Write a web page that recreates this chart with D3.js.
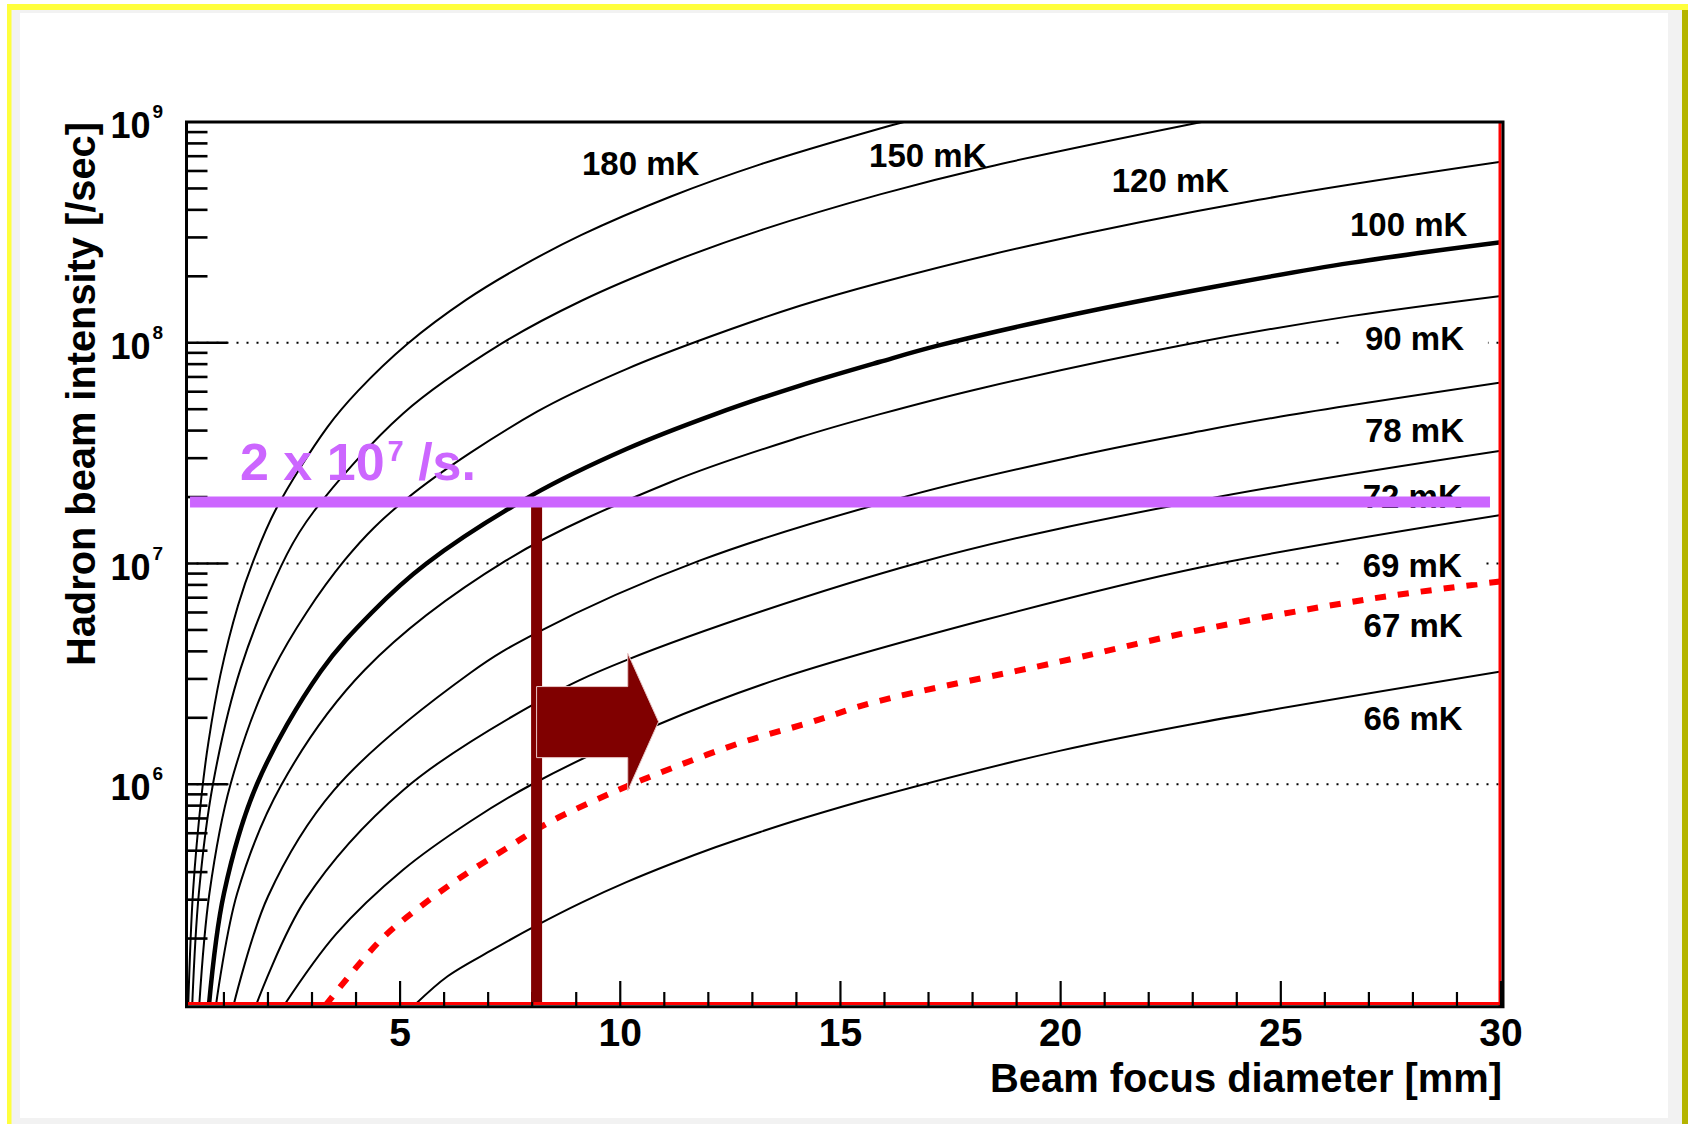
<!DOCTYPE html>
<html>
<head>
<meta charset="utf-8">
<script src="https://cdn.jsdelivr.net/npm/d3@7/dist/d3.min.js"></script>
<style>
  body { margin: 0; background: #fff; overflow: hidden; }
  svg { display: block; }
  text { font-family: "Liberation Sans", Arial, Helvetica, sans-serif; font-weight: bold; }
</style>
</head>
<body>
<svg id="chart" width="1691" height="1124"></svg>
<script>
// cooling limit curves: [beam focus diameter (mm), hadron beam intensity (/sec)]
var temps = ["180 mK", "150 mK", "120 mK", "100 mK", "90 mK", "78 mK", "72 mK", "69 mK", "67 mK", "66 mK"];

var c180 = [[0.19,1e5],[0.3,3.3e5],[0.5,9.2e5],[0.65,1.56e6],[0.92,3.13e6],[1.32,6.45e6],[1.67,1.03e7],[2.18,1.76e7],
  [3.35,4.15e7],[4.05,6.07e7],[5.17,9.9e7],[6.49,1.56e8],[7.7,2.19e8],[9.12,3.08e8],[11.15,4.6e8],[13.18,6.43e8],
  [15.9,9.35e8],[16.44,1e9]];
var c150 = [[0.28,1e5],[0.43,3.2e5],[0.75,1e6],[1.38,3.35e6],[2.43,1.1e7],[3.04,1.72e7],[5.07,4.78e7],[7.3,9.9e7],
  [9.12,1.55e8],[11.15,2.31e8],[13.18,3.23e8],[15.9,4.7e8],[18.35,6.26e8],[23.2,1e9]];
var c120 = [[0.44,1e5],[0.67,3.2e5],[1.15,1e6],[2.1,3.26e6],[3.75,1.04e7],[5.17,1.98e7],[8.11,4.87e7],[10.14,7.6e7],
  [11.66,1e8],[14.08,1.47e8],[15.9,1.87e8],[19.29,2.75e8],[24.5,4.44e8],[30,6.6e8]];
var c100 = [[0.66,1e5],[1.0,3.2e5],[1.75,1e6],[3.2,3.25e6],[4.36,6.0e6],[5.6,1.0e7],[8.0,2.04e7],[10.14,3.3e7],
  [12.16,4.75e7],[14.08,6.4e7],[15.9,8.2e7],[17.21,9.7e7],[20.34,1.35e8],[23.46,1.79e8],[26.59,2.3e8],[30,2.85e8]];
var c90 = [[0.82,1e5],[1.3,3.2e5],[2.3,9.9e5],[4.2,3.3e6],[7.4,1.03e7],[11.15,2.34e7],[14.08,3.73e7],[15.9,4.75e7],
  [18.25,6.26e7],[23.05,1e8],[26.59,1.32e8],[30,1.63e8]];
var c78 = [[1.22,1e5],[2.0,3.1e5],[3.5,9.4e5],[6.6,3.2e6],[8.1,4.85e6],[11.8,1.03e7],[16.6,2.04e7],[20.5,3.11e7],
  [23.16,3.97e7],[25,4.63e7],[30,6.6e7]];
var c72 = [[1.73,1e5],[2.85,3.0e5],[5.07,9.4e5],[8.11,2.35e6],[10.14,3.65e6],[16.8,1.01e7],[23.16,1.93e7],[30,3.24e7]];
var c69 = [[2.37,1e5],[3.55,2.1e5],[5.07,4.1e5],[6.6,6.8e5],[8.0,1e6],[10.85,1.86e6],[13.6,3.0e6],[18.2,5.5e6],
  [23.16,9.6e6],[30,1.66e7]];
var c67 = [[3.31,1e5],[4.56,1.97e5],[5.47,2.8e5],[6.39,3.8e5],[7.4,5.1e5],[8.31,6.6e5],[9.78,9.1e5],[11.25,1.2e6],
  [12.77,1.55e6],[14.29,1.9e6],[15.76,2.35e6],[20,3.6e6],[23.16,5e6],[27,6.9e6],[30,8.3e6]];
var c66 = [[5.33,1e5],[6.08,1.35e5],[7.1,1.78e5],[8.11,2.3e5],[9.12,2.91e5],[10.14,3.6e5],[11.15,4.35e5],
  [12.16,5.18e5],[13.18,6.08e5],[14.19,7.05e5],[15.9,8.85e5],[20,1.42e6],[23.16,1.9e6],[30,3.24e6]];

var curves = [c180, c150, c120, c100, c90, c78, c72, c69, c67, c66];

var xMajor = [5, 10, 15, 20, 25, 30];
var yDecades = [6, 7, 8, 9];
var gridValues = [1e6, 1e7, 1e8];

// required beam (the line sits a touch under 2e7 in the figure)
var limitText = "2 x 10";
var limitExp = "7";
var limitValue = 1.9e7;
var limitX = 8.1;

// label anchors in data coordinates (left edge, baseline)
var labelPos = [[9.13,5.74e8],[15.65,6.25e8],[21.16,4.81e8],[26.57,3.04e8],[26.91,9.27e7],[26.91,3.55e7],
  [26.86,1.78e7],[26.86,8.67e6],[26.88,4.63e6],[26.88,1.76e6]];

var svg = d3.select("#chart");

// page frame
svg.append("rect").attr("x", 7).attr("y", 4).attr("width", 1681).attr("height", 1130).attr("fill", "#ffff3c");
svg.append("rect").attr("x", 1682).attr("y", 10).attr("width", 6).attr("height", 1124).attr("fill", "#b4b400");
svg.append("rect").attr("x", 11.5).attr("y", 10).attr("width", 1670.5).attr("height", 1124).attr("fill", "#f2f2f2");
svg.append("rect").attr("x", 20).attr("y", 13).attr("width", 1648).attr("height", 1105).attr("fill", "#fff");

var x = d3.scaleLinear().domain([0.15, 30]).range([186.5, 1501]);
var y = d3.scaleLog().domain([1e5, 1e9]).range([1005, 122]);

svg.append("clipPath").attr("id", "plotclip")
  .append("rect").attr("x", 186.5).attr("y", 122).attr("width", 1314.5).attr("height", 883);

// dotted grid
svg.selectAll(".grid").data(gridValues).enter().append("line")
  .attr("class", "grid")
  .attr("x1", x(0.15)).attr("x2", x(30))
  .attr("y1", function(d) { return y(d); }).attr("y2", function(d) { return y(d); })
  .attr("stroke", "#000").attr("stroke-width", 2).attr("stroke-dasharray", "2,8");

// curves
var line = d3.line()
  .x(function(d) { return x(d[0]); })
  .y(function(d) { return y(d[1]); })
  .curve(d3.curveCatmullRom.alpha(0.5));

svg.append("g").attr("clip-path", "url(#plotclip)")
  .selectAll("path").data(curves).enter().append("path")
  .attr("d", line)
  .attr("fill", "none")
  .attr("stroke", function(d, i) { return temps[i] == "67 mK" ? "#ff0000" : "#000"; })
  .attr("stroke-width", function(d, i) {
    if(temps[i] == "100 mK") return 4.5;
    if(temps[i] == "67 mK") return 6;
    return 2;
  })
  .attr("stroke-dasharray", function(d, i) { return temps[i] == "67 mK" ? "11,12" : null; });

// red edges inside the frame
svg.append("line").attr("x1", x(0.15)).attr("x2", 1503).attr("y1", 1003.5).attr("y2", 1003.5)
  .attr("stroke", "#ff0000").attr("stroke-width", 3);
svg.append("line").attr("x1", 1500).attr("x2", 1500).attr("y1", 122).attr("y2", 1007)
  .attr("stroke", "#ff0000").attr("stroke-width", 3);

// frame
svg.append("path")
  .attr("d", "M186.5,1006.8 L186.5,122 L1503,122 L1503,1006.8 Z")
  .attr("fill", "none").attr("stroke", "#000").attr("stroke-width", 3);

// x ticks
var xTicks = d3.range(1, 31);
svg.selectAll(".xtick").data(xTicks).enter().append("line")
  .attr("class", "xtick")
  .attr("x1", function(d) { return x(d); }).attr("x2", function(d) { return x(d); })
  .attr("y1", 1006).attr("y2", function(d) { return xMajor.indexOf(d) >= 0 ? 981 : 992; })
  .attr("stroke", "#000").attr("stroke-width", 2.2);

svg.selectAll(".xlab").data(xMajor).enter().append("text")
  .attr("class", "xlab")
  .attr("x", function(d) { return x(d); }).attr("y", 1046)
  .attr("text-anchor", "middle").attr("font-size", 39)
  .text(function(d) { return d; });

// y ticks
var yTicks = [];
for(var k = 5; k <= 8; k++) {
  for(var m = 1; m <= 9; m++) {
    if(k == 5 && m == 1) continue;
    yTicks.push(m * Math.pow(10, k));
  }
}
svg.selectAll(".ytick").data(yTicks).enter().append("line")
  .attr("class", "ytick")
  .attr("x1", 186.5).attr("x2", function(d) {
    var l = Math.log10(d);
    return Math.abs(l - Math.round(l)) < 1e-9 ? 227.5 : 207.5;
  })
  .attr("y1", function(d) { return y(d); }).attr("y2", function(d) { return y(d); })
  .attr("stroke", "#000").attr("stroke-width", 2.6);

var ylab = svg.selectAll(".ylab").data(yDecades).enter().append("text")
  .attr("class", "ylab")
  .attr("x", 163).attr("y", function(d) { return y(Math.pow(10, d)) + 16; })
  .attr("text-anchor", "end").attr("font-size", 36);
ylab.append("tspan").text("10");
ylab.append("tspan").attr("font-size", 19).attr("dy", -20).attr("dx", 2).text(function(d) { return d; });

// axis titles
svg.append("text")
  .attr("x", 990).attr("y", 1092)
  .attr("font-size", 40).attr("textLength", 512).attr("lengthAdjust", "spacingAndGlyphs")
  .text("Beam focus diameter [mm]");

svg.append("text")
  .attr("transform", "translate(95,666) rotate(-90)")
  .attr("font-size", 40).attr("textLength", 544).attr("lengthAdjust", "spacingAndGlyphs")
  .text("Hadron beam intensity [/sec]");

// temperature labels (the right-hand ones sit on white boxes)
var labs = svg.selectAll(".tlab").data(temps).enter().append("g").attr("class", "tlab");
labs.filter(function(d, i) { return i >= 3; }).append("rect")
  .attr("x", function(d) { var i = temps.indexOf(d); return x(labelPos[i][0]) - 19; })
  .attr("y", function(d) { var i = temps.indexOf(d); return y(labelPos[i][1]) - 28; })
  .attr("width", 142).attr("height", 33)
  .attr("fill", "#fff");
labs.append("text")
  .attr("x", function(d, i) { return x(labelPos[i][0]); })
  .attr("y", function(d, i) { return y(labelPos[i][1]); })
  .attr("font-size", 33)
  .text(function(d) { return d; });

// required intensity line and annotation
svg.append("rect")
  .attr("x", x(limitX) - 5.5).attr("y", y(limitValue))
  .attr("width", 11).attr("height", 1002 - y(limitValue))
  .attr("fill", "#800000");

svg.append("line")
  .attr("x1", x(0.23)).attr("x2", x(29.75))
  .attr("y1", y(limitValue)).attr("y2", y(limitValue))
  .attr("stroke", "#cc66ff").attr("stroke-width", 11);

var lt = svg.append("text")
  .attr("x", 240).attr("y", 480)
  .attr("font-size", 52).attr("fill", "#cc66ff");
lt.append("tspan").text(limitText);
lt.append("tspan").attr("font-size", 29).attr("dy", -19).attr("dx", 3).text(limitExp);
lt.append("tspan").attr("dy", 19).text("\u00a0/s.");

// arrow pointing to larger beam focus
var arrowPts = [[8.1,2.77e6],[10.17,2.77e6],[10.17,3.92e6],[10.87,1.92e6],[10.17,9.35e5],[10.17,1.32e6],[8.1,1.32e6]];
svg.append("polygon")
  .attr("points", arrowPts.map(function(p) { return x(p[0]) + "," + y(p[1]); }).join(" "))
  .attr("fill", "#800000").attr("stroke", "#e8c8c8").attr("stroke-width", 1);
</script>
</body>
</html>
